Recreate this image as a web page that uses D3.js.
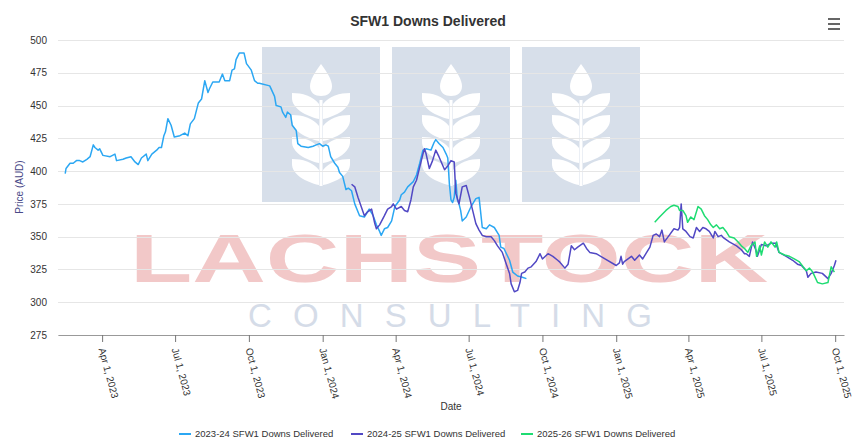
<!DOCTYPE html>
<html>
<head>
<meta charset="utf-8">
<script src="https://cdnjs.cloudflare.com/ajax/libs/d3/7.8.5/d3.min.js"></script>
<style>
  body { margin: 0; background: #fff; }
  text { font-family: "Liberation Sans", Arial, sans-serif; }
</style>
</head>
<body>
<div id="chart"></div>
<script>
var seriesNames = ["2023-24 SFW1 Downs Delivered", "2024-25 SFW1 Downs Delivered", "2025-26 SFW1 Downs Delivered"];
var seriesColors = ["#2ba7f3", "#5148c4", "#1edc72"];
var yTicks = [275, 300, 325, 350, 375, 400, 425, 450, 475, 500];

var dates2324 = ["2023-02-14","2023-02-15","2023-02-20","2023-02-24","2023-02-28","2023-03-04","2023-03-08","2023-03-13","2023-03-17","2023-03-21",
  "2023-03-23","2023-03-27","2023-03-29","2023-04-02","2023-04-11","2023-04-17","2023-04-19","2023-04-27","2023-05-01","2023-05-07",
  "2023-05-12","2023-05-16","2023-05-20","2023-05-26","2023-05-28","2023-06-02","2023-06-08","2023-06-11","2023-06-14","2023-06-17",
  "2023-06-19","2023-06-22","2023-06-26","2023-06-30","2023-07-07","2023-07-13","2023-07-17","2023-07-20","2023-07-25","2023-07-30",
  "2023-08-03","2023-08-07","2023-08-11","2023-08-13","2023-08-17","2023-08-25","2023-08-29","2023-09-01","2023-09-07","2023-09-10",
  "2023-09-13","2023-09-15","2023-09-19","2023-09-25","2023-09-28","2023-10-04","2023-10-08","2023-10-12","2023-10-14","2023-10-27",
  "2023-11-02","2023-11-04","2023-11-10","2023-11-12","2023-11-16","2023-11-18","2023-11-22","2023-11-24","2023-11-29","2023-12-01",
  "2023-12-05","2023-12-14","2023-12-20","2023-12-24","2023-12-28","2024-01-01","2024-01-05","2024-01-08","2024-01-11","2024-01-16",
  "2024-01-20","2024-01-22","2024-01-26","2024-01-30","2024-02-02","2024-02-06","2024-02-10","2024-02-16","2024-02-22","2024-02-28",
  "2024-03-04","2024-03-08","2024-03-12","2024-03-14","2024-03-18","2024-03-22","2024-03-27","2024-03-31","2024-04-06","2024-04-08",
  "2024-04-12","2024-04-16","2024-04-23","2024-04-27","2024-05-01","2024-05-05","2024-05-09","2024-05-15","2024-05-19","2024-05-21",
  "2024-05-25","2024-05-30","2024-06-03","2024-06-05","2024-06-07","2024-06-09","2024-06-11","2024-06-13","2024-06-15","2024-06-17",
  "2024-06-19","2024-06-21","2024-06-23","2024-06-28","2024-07-04","2024-07-10","2024-07-14","2024-07-18","2024-07-23","2024-07-27",
  "2024-08-02","2024-08-08","2024-08-10","2024-08-14","2024-08-21","2024-08-25","2024-08-31","2024-09-06","2024-09-11"];
var prices2324 = [398,402,406,406,408,408,407,409,411,420,
  418,416,417,412,411,413,408,409,410,411,
  407,405,410,413,408,413,416,418,418,427,
  430,440,435,426,427,429,427,436,440,452,
  455,469,460,463,468,468,474,469,469,477,
  478,485,490,490,482,477,469,467,467,465,
  457,450,449,445,441,445,443,435,431,421,
  419,418,419,420,421,419,420,419,411,406,
  403,399,396,386,387,385,375,366,365,371,
  366,359,354,351,356,357,362,373,378,382,
  384,388,392,397,406,416,417,416,422,424,
  421,418,413,410,390,378,376,380,393,378,
  375,370,362,365,373,379,380,357,356,359,
  357,351,342,341,332,323,320,319,318];

var dates2425 = ["2024-02-06","2024-02-10","2024-02-14","2024-02-18","2024-02-22","2024-02-26","2024-03-02","2024-03-06","2024-03-08","2024-03-12",
  "2024-03-18","2024-03-22","2024-03-27","2024-03-29","2024-04-02","2024-04-08","2024-04-12","2024-04-16","2024-04-20","2024-04-23",
  "2024-04-27","2024-05-01","2024-05-05","2024-05-07","2024-05-09","2024-05-13","2024-05-17","2024-05-21","2024-05-25","2024-06-01",
  "2024-06-05","2024-06-09","2024-06-13","2024-06-15","2024-06-19","2024-06-23","2024-06-28","2024-07-02","2024-07-06","2024-07-10",
  "2024-07-14","2024-07-18","2024-07-23","2024-07-29","2024-08-02","2024-08-06","2024-08-12","2024-08-17","2024-08-21","2024-08-23",
  "2024-08-27","2024-08-31","2024-09-03","2024-09-05","2024-09-09","2024-09-13","2024-09-17","2024-09-23","2024-09-28","2024-10-01",
  "2024-10-08","2024-10-14","2024-10-20","2024-10-22","2024-10-29","2024-11-02","2024-11-06","2024-11-10","2024-11-14","2024-11-21",
  "2024-11-25","2024-11-29","2024-12-07","2024-12-18","2025-01-01","2025-01-05","2025-01-07","2025-01-09","2025-01-11","2025-01-20",
  "2025-01-24","2025-01-30","2025-02-03","2025-02-07","2025-02-12","2025-02-16","2025-02-20","2025-02-24","2025-02-27","2025-03-02",
  "2025-03-08","2025-03-14","2025-03-19","2025-03-21","2025-03-23","2025-03-25","2025-03-29","2025-04-03","2025-04-07","2025-04-11",
  "2025-04-15","2025-04-19","2025-04-23","2025-04-27","2025-05-02","2025-05-04","2025-05-08","2025-05-12","2025-05-15","2025-05-22",
  "2025-05-31","2025-06-06","2025-06-10","2025-06-12","2025-06-16","2025-06-20","2025-06-24","2025-06-26","2025-07-01","2025-07-07",
  "2025-07-13","2025-07-19","2025-07-23","2025-08-01","2025-08-09","2025-08-15","2025-08-20","2025-08-26","2025-08-28","2025-09-01",
  "2025-09-07","2025-09-15","2025-09-22","2025-09-26","2025-09-30","2025-10-02"];
var prices2425 = [390,388,380,373,366,369,371,360,356,359,
  366,371,373,375,371,373,370,369,378,388,
  393,403,413,417,413,402,408,416,411,401,
  404,408,407,383,375,388,389,380,370,360,
  355,351,350,350,347,343,338,329,322,314,
  308,309,315,322,323,326,327,331,337,333,
  337,335,332,331,326,329,343,340,342,345,
  341,338,337,333,328,330,335,329,331,335,
  332,336,333,337,342,351,352,350,355,346,
  351,356,355,357,375,356,354,350,349,357,
  354,357,356,354,349,354,350,351,349,346,
  343,340,337,337,335,346,340,335,344,343,
  345,345,338,335,332,329,328,324,319,322,
  323,322,318,322,328,332];

var dates2526 = ["2025-02-18","2025-02-24","2025-03-04","2025-03-10","2025-03-14","2025-03-19","2025-03-21","2025-03-25","2025-03-29","2025-03-31",
  "2025-04-04","2025-04-08","2025-04-13","2025-04-17","2025-04-21","2025-04-25","2025-04-29","2025-05-02","2025-05-06","2025-05-10",
  "2025-05-14","2025-05-18","2025-05-22","2025-05-28","2025-06-02","2025-06-06","2025-06-10","2025-06-14","2025-06-18","2025-06-23",
  "2025-06-25","2025-06-29","2025-07-01","2025-07-05","2025-07-09","2025-07-13","2025-07-18","2025-07-20","2025-07-23","2025-07-30",
  "2025-08-05","2025-08-11","2025-08-17","2025-08-22","2025-08-26","2025-08-30","2025-09-03","2025-09-09","2025-09-15","2025-09-22",
  "2025-09-26","2025-09-30"];
var prices2526 = [361,365,370,373,374,373,370,370,366,361,
  365,363,373,371,366,363,359,357,359,356,
  357,354,350,349,346,343,341,338,343,346,
  335,343,336,346,342,346,342,346,338,336,
  335,333,331,327,324,326,323,315,314,315,
  327,323];

var width = 856, height = 443;
var margin = { left: 58, right: 12, top: 40, bottom: 108 };
var parseDate = d3.utcParse("%Y-%m-%d");

function toPoints(dates, prices) {
  return dates.map(function(d, i) { return { date: parseDate(d), value: prices[i] }; });
}
var series = [toPoints(dates2324, prices2324), toPoints(dates2425, prices2425), toPoints(dates2526, prices2526)];

var x = d3.scaleUtc()
  .domain([parseDate("2023-02-05"), parseDate("2025-10-12")])
  .range([margin.left, width - margin.right]);
var y = d3.scaleLinear()
  .domain([275, 500])
  .range([height - margin.bottom, margin.top]);

var svg = d3.select("#chart").append("svg")
  .attr("width", width)
  .attr("height", height);

// watermark behind the plot
var wm = svg.append("g");
var squareX = [262, 392, 522];
squareX.forEach(function(sx) {
  wm.append("rect").attr("x", sx).attr("y", 47).attr("width", 118).attr("height", 155).attr("fill", "#d7dfea");
  var g = wm.append("g").attr("transform", "translate(" + (sx + 59) + ",0)").attr("fill", "#fff");
  g.append("path").attr("d", "M0,64 C6,72 11,80 11,86 C11,93 6,96 0,96 C-6,96 -11,93 -11,86 C-11,80 -6,72 0,64 Z");
  [93, 115, 137, 159].forEach(function(ly) {
    g.append("path").attr("transform", "translate(0," + ly + ")")
      .attr("d", "M-2,11 C-8,3 -19,0 -29,0 L-29,5 C-29,15 -16,23 -2,26 Z");
    g.append("path").attr("transform", "translate(0," + ly + ") scale(-1,1)")
      .attr("d", "M-2,11 C-8,3 -19,0 -29,0 L-29,5 C-29,15 -16,23 -2,26 Z");
  });
  g.append("rect").attr("x", -1.5).attr("y", 100).attr("width", 3).attr("height", 86);
});
wm.append("text").attr("x", 130).attr("y", 282)
  .attr("textLength", 638).attr("lengthAdjust", "spacingAndGlyphs")
  .style("font-size", "68px").style("font-weight", "bold").attr("fill", "#f2c8c8")
  .text("LACHSTOCK");
wm.append("text").attr("x", 248).attr("y", 327)
  .attr("textLength", 404).attr("lengthAdjust", "spacing")
  .style("font-size", "33px").attr("fill", "#d5dce8")
  .text("CONSULTING");

// grid
svg.append("g").selectAll("line").data(yTicks).enter().append("line")
  .attr("x1", margin.left).attr("x2", width - margin.right)
  .attr("y1", function(d) { return Math.round(y(d)) + 0.5; })
  .attr("y2", function(d) { return Math.round(y(d)) + 0.5; })
  .attr("stroke", "#e6e6e6");

// y axis labels
var yAxis = d3.axisLeft(y).tickValues(yTicks).tickSize(0).tickPadding(0);
var yg = svg.append("g").attr("transform", "translate(" + (margin.left - 11) + ",0)").call(yAxis);
yg.select(".domain").remove();
yg.selectAll("text").style("font-size", "10px").attr("fill", "#333")
  .style("font-family", "'Liberation Sans', Arial, sans-serif");

// x axis
var xAxis = d3.axisBottom(x)
  .ticks(d3.utcMonth.every(3))
  .tickFormat(d3.utcFormat("%b %-d, %Y"))
  .tickSize(7).tickSizeOuter(0);
var xg = svg.append("g").attr("transform", "translate(0," + (height - margin.bottom) + ")").call(xAxis);
xg.select(".domain").attr("stroke", "#999");
xg.selectAll(".tick line").attr("stroke", "#777");
xg.selectAll("text")
  .style("font-size", "10px").attr("fill", "#333")
  .style("font-family", "'Liberation Sans', Arial, sans-serif")
  .attr("text-anchor", "start")
  .attr("y", 0).attr("dy", 0)
  .attr("transform", "translate(-4,14) rotate(75)");

// lines
var line = d3.line()
  .x(function(d) { return x(d.date); })
  .y(function(d) { return y(d.value); });
series.forEach(function(s, i) {
  svg.append("path").datum(s)
    .attr("fill", "none")
    .attr("stroke", seriesColors[i])
    .attr("stroke-width", 1.5)
    .attr("stroke-linejoin", "round")
    .attr("d", line);
});

// titles
svg.append("text").attr("x", width / 2).attr("y", 26).attr("text-anchor", "middle")
  .style("font-size", "14px").style("font-weight", "bold").attr("fill", "#333")
  .text("SFW1 Downs Delivered");
svg.append("text").attr("transform", "translate(23,187) rotate(-90)").attr("text-anchor", "middle")
  .style("font-size", "10px").attr("fill", "#4a4a88")
  .text("Price (AUD)");
svg.append("text").attr("x", 451).attr("y", 410).attr("text-anchor", "middle")
  .style("font-size", "10px").attr("fill", "#333")
  .text("Date");

// menu icon
[19, 24, 29].forEach(function(my) {
  svg.append("line").attr("x1", 828).attr("x2", 840).attr("y1", my).attr("y2", my)
    .attr("stroke", "#666").attr("stroke-width", 2);
});

// legend
var legendX = [179, 351, 521];
var legend = svg.append("g").selectAll("g").data(seriesNames).enter().append("g")
  .attr("transform", function(d, i) { return "translate(" + legendX[i] + ",434)"; });
legend.append("line").attr("x1", 0).attr("x2", 12)
  .attr("stroke", function(d, i) { return seriesColors[i]; }).attr("stroke-width", 2);
legend.append("text").attr("x", 16).attr("dy", "0.35em")
  .style("font-size", "9.5px").attr("fill", "#333")
  .text(function(d) { return d; });
</script>
</body>
</html>
